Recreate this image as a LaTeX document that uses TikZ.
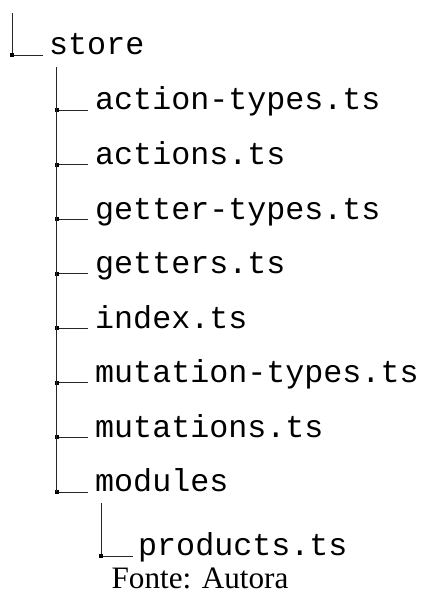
\documentclass[tikz,border=0pt]{standalone}
\usepackage{fontspec}
\setmainfont{Liberation Serif}
\newfontfamily\monofont{Liberation Mono}
\begin{document}
\begin{tikzpicture}[x=1pt,y=1pt,
  treeline/.style={line width=0.9pt, black!85},
  corner/.style={fill=black, minimum size=4pt, inner sep=0pt, draw=none},
  item/.style={anchor=base west, inner sep=0pt, font=\monofont\fontsize{31.7}{34}\selectfont},
  caption/.style={anchor=base, inner sep=0pt, font=\fontsize{31.2}{34}\selectfont}]
\useasboundingbox (0,0) rectangle (421,592);
% root
\coordinate (rtop) at (12.3,{592-13});
\coordinate (rc) at (12.3,{592-55});
\node[item] (store) at (49,{592-55}) {store};
\draw[treeline] (rtop) -- (rc) -- (43,{592-55});
\node[corner] at (rc) {};
% children
\coordinate (ctop) at (56.7,{592-67});
\foreach \t [count=\i from 0] in {action-types.ts,actions.ts,getter-types.ts,getters.ts,index.ts,mutation-types.ts,mutations.ts,modules}{
  \coordinate (c\i) at (56.7,{592-110-54.57*\i});
  \node[item] (n\i) at (95,{592-110-54.57*\i}) {\t};
  \draw[treeline] (c\i) -- ++(31.3,0);
  \node[corner] at (c\i) {};
}
\draw[treeline] (ctop) -- (c7);
% grandchild
\coordinate (gtop) at (101.3,{592-503});
\coordinate (g0) at (101.3,{592-556});
\node[item] (prod) at (138,{592-556}) {products.ts};
\draw[treeline] (gtop) -- (g0) -- ++(31.7,0);
\node[corner] at (g0) {};
% caption
\node[caption] (cap) at (200,{592-588}) {Fonte: Autora};
\end{tikzpicture}
\end{document}
